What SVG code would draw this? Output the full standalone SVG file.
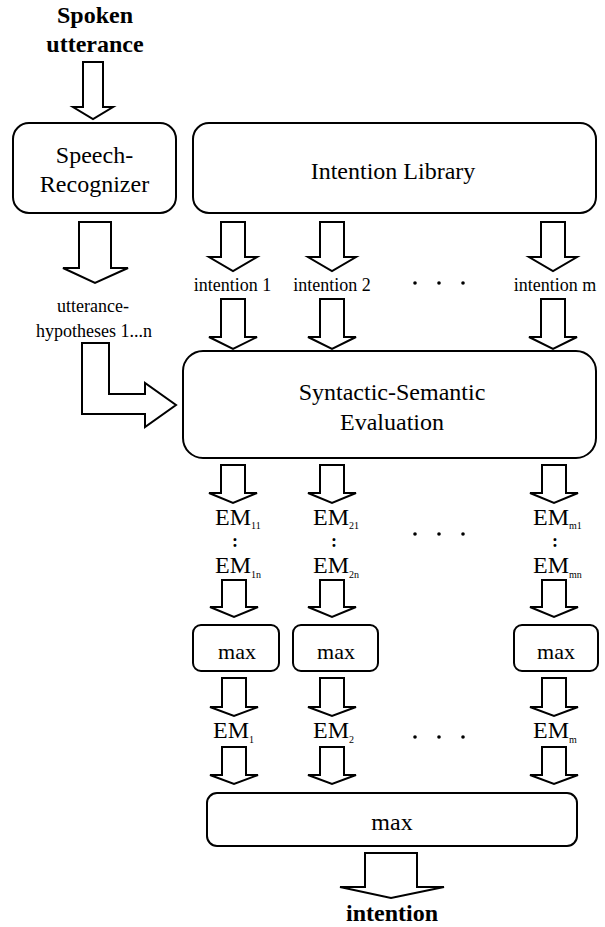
<svg xmlns="http://www.w3.org/2000/svg" width="605" height="927" viewBox="0 0 605 927" font-family="'Liberation Serif', 'DejaVu Serif', serif">
<style>
.box{fill:#fff;stroke:#000;stroke-width:2}
.arr{fill:#fff;stroke:#000;stroke-width:2;stroke-linejoin:miter}
text{font-family:'Liberation Serif','DejaVu Serif',serif;fill:#000}
.b{font-weight:bold;font-size:24px}
.m{font-size:24px}
.s{font-size:18px}
.sub{font-size:10px}
.c{text-anchor:middle}
.dot{fill:#000}
</style>
<rect width="605" height="927" fill="#fff"/>
<g id="input">
<text class="b c" x="95" y="23">Spoken</text>
<text class="b c" x="95" y="52">utterance</text>
</g>
<g id="speech-recognizer">
<rect class="box" x="13" y="123" width="163" height="90" rx="16"/>
<text class="m c" x="94.5" y="163">Speech-</text>
<text class="m c" x="94.5" y="192">Recognizer</text>
</g>
<g id="intention-library">
<rect class="box" x="193" y="123" width="403" height="90" rx="16"/>
<text class="m c" x="393" y="179">Intention Library</text>
</g>
<g id="hypotheses">
<text class="s c" x="93" y="312">utterance-</text>
<text class="s c" x="94" y="337">hypotheses 1...n</text>
</g>
<g id="intentions">
<text class="s c" x="232.5" y="291">intention 1</text>
<text class="s c" x="332" y="291">intention 2</text>
<circle class="dot" cx="415" cy="283" r="1.8"/><circle class="dot" cx="439" cy="283" r="1.8"/><circle class="dot" cx="463" cy="283" r="1.8"/>
<text class="s c" x="555" y="291">intention m</text>
</g>
<g id="syntactic-semantic-evaluation">
<rect class="box" x="183" y="351" width="413" height="107" rx="20"/>
<text class="m c" x="392" y="400">Syntactic-Semantic</text>
<text class="m c" x="392" y="430">Evaluation</text>
</g>
<g id="em-matrix">
<text class="m" x="215" y="525">EM<tspan class="sub" dy="4">11</tspan></text>
<text class="m" x="313" y="525">EM<tspan class="sub" dy="4">21</tspan></text>
<text class="m" x="533" y="525">EM<tspan class="sub" dy="4">m1</tspan></text>
<text class="b c" x="235" y="547" style="font-size:18px">:</text>
<text class="b c" x="334" y="547" style="font-size:18px">:</text>
<text class="b c" x="555" y="547" style="font-size:18px">:</text>
<circle class="dot" cx="415" cy="534" r="1.8"/><circle class="dot" cx="439" cy="534" r="1.8"/><circle class="dot" cx="463" cy="534" r="1.8"/>
<text class="m" x="215" y="573">EM<tspan class="sub" dy="5">1n</tspan></text>
<text class="m" x="313" y="573">EM<tspan class="sub" dy="5">2n</tspan></text>
<text class="m" x="533" y="573">EM<tspan class="sub" dy="5">mn</tspan></text>
</g>
<g id="max-1">
<rect class="box" x="193" y="625" width="86" height="46" rx="8"/>
<text class="m c" x="237" y="659" style="font-size:22px">max</text>
</g>
<g id="max-2">
<rect class="box" x="293" y="625" width="85" height="46" rx="8"/>
<text class="m c" x="336" y="659" style="font-size:22px">max</text>
</g>
<g id="max-m">
<rect class="box" x="514" y="625" width="84" height="46" rx="8"/>
<text class="m c" x="556" y="659" style="font-size:22px">max</text>
</g>
<g id="em-results">
<text class="m" x="213" y="738">EM<tspan class="sub" dy="5">1</tspan></text>
<text class="m" x="313" y="738">EM<tspan class="sub" dy="5">2</tspan></text>
<text class="m" x="533" y="738">EM<tspan class="sub" dy="5">m</tspan></text>
<circle class="dot" cx="415" cy="737" r="1.8"/><circle class="dot" cx="439" cy="737" r="1.8"/><circle class="dot" cx="463" cy="737" r="1.8"/>
</g>
<g id="max-final">
<rect class="box" x="207" y="793" width="370" height="53" rx="10"/>
<text class="m c" x="392" y="830">max</text>
</g>
<g id="output">
<text class="b c" x="392" y="921">intention</text>
</g>
<g id="connectors">
<polygon class="arr" points="83,62 103,62 103,107 113,107 93,119 73,107 83,107"/>
<polygon class="arr" points="79,222 111,222 111,268 128,268 95,283 63,268 79,268"/>
<polygon class="arr" points="82,343 109,343 109,394 145,394 145,383 176,405 145,427 145,414 82,414"/>
<polygon class="arr" points="221,222 245,222 245,257 257,257 233,271 209,257 221,257"/>
<polygon class="arr" points="320,222 344,222 344,257 356,257 332,271 308,257 320,257"/>
<polygon class="arr" points="541,222 565,222 565,257 577,257 553,271 529,257 541,257"/>
<polygon class="arr" points="221,299 245,299 245,337 257,337 233,349 209,337 221,337"/>
<polygon class="arr" points="320,299 344,299 344,337 356,337 332,349 308,337 320,337"/>
<polygon class="arr" points="541,299 565,299 565,337 577,337 553,349 529,337 541,337"/>
<polygon class="arr" points="221,465 245,465 245,493 257,493 233,503 209,493 221,493"/>
<polygon class="arr" points="320,465 344,465 344,493 356,493 332,503 308,493 320,493"/>
<polygon class="arr" points="542,465 566,465 566,493 578,493 554,503 530,493 542,493"/>
<polygon class="arr" points="222,580 246,580 246,607 258,607 234,617 210,607 222,607"/>
<polygon class="arr" points="320,580 344,580 344,607 356,607 332,617 308,607 320,607"/>
<polygon class="arr" points="542,580 566,580 566,607 578,607 554,617 530,607 542,607"/>
<polygon class="arr" points="222,678 246,678 246,707 258,707 234,716 210,707 222,707"/>
<polygon class="arr" points="320,678 344,678 344,707 356,707 332,716 308,707 320,707"/>
<polygon class="arr" points="542,678 566,678 566,707 578,707 554,716 530,707 542,707"/>
<polygon class="arr" points="222,747 246,747 246,775 258,775 234,784 210,775 222,775"/>
<polygon class="arr" points="320,747 344,747 344,775 356,775 332,784 308,775 320,775"/>
<polygon class="arr" points="542,747 566,747 566,775 578,775 554,784 530,775 542,775"/>
<polygon class="arr" points="365,853 417,853 417,887 444,887 391,898 340,887 365,887"/>
</g>
</svg>
